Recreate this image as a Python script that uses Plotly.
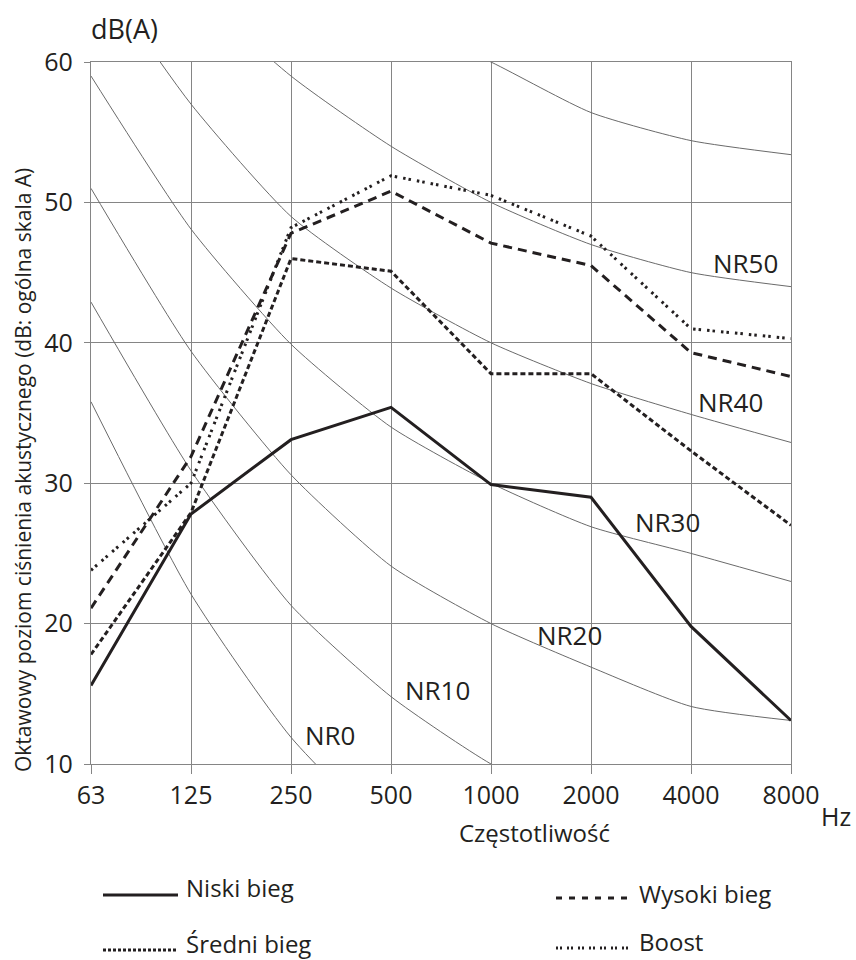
import plotly.graph_objects as go

# ---------------- data ----------------
freqs = ["63", "125", "250", "500", "1000", "2000", "4000", "8000"]

niski = [15.6, 27.8, 33.1, 35.4, 29.9, 29.0, 19.8, 13.1]
sredni = [17.8, 27.9, 46.0, 45.1, 37.8, 37.8, 32.3, 27.0]
wysoki = [21.1, 31.9, 47.8, 50.8, 47.1, 45.5, 39.3, 37.6]
boost = [23.8, 30.0, 48.2, 51.9, 50.5, 47.6, 41.0, 40.3]

nr_names = ["NR0", "NR10", "NR20", "NR30", "NR40", "NR50", "NR60"]
nr0 = [35.8, 22.1, 11.9, 4.8, 0.0, -3.5, -6.1, -8.0]
nr10 = [42.9, 30.9, 21.3, 14.8, 10.0, 6.6, 4.2, 2.3]
nr20 = [51.0, 39.4, 30.6, 24.1, 20.0, 16.9, 14.1, 13.1]
nr30 = [59.0, 48.1, 39.9, 34.0, 30.0, 26.9, 25.0, 23.0]
nr40 = [67.1, 57.0, 49.0, 43.9, 40.0, 37.1, 34.9, 32.9]
nr50 = [75.0, 65.5, 59.0, 54.0, 50.0, 47.0, 45.0, 44.0]
nr60 = [82.9, 74.2, 67.8, 63.2, 60.0, 56.4, 54.4, 53.4]
nr_curves = [nr0, nr10, nr20, nr30, nr40, nr50, nr60]

y_ticks = [10, 20, 30, 40, 50, 60]

legend_names = ["Niski bieg", "Średni bieg", "Wysoki bieg", "Boost"]

# ---------------- figure ----------------
W, H = 856, 960
L, R, T, B = 91, 791, 62, 764
FONT = "Open Sans"
INK = "#231f20"
GRID = "#858585"

def px(x):
    return (x - L) / (R - L)

def py(y):
    return (B - y) / (B - T)

fig = go.Figure()

for curve, name in zip(nr_curves, nr_names):
    fig.add_trace(go.Scatter(
        x=freqs, y=curve, mode="lines", name=name,
        line=dict(color="#6a6a6a", width=1, shape="spline", smoothing=0.6),
        showlegend=False, hoverinfo="skip"))

series = [
    (niski, dict(color=INK, width=3, dash="solid")),
    (sredni, dict(color=INK, width=3, dash="5px,3px")),
    (wysoki, dict(color=INK, width=3, dash="9px,6px")),
    (boost, dict(color=INK, width=3, dash="2.5px,3px,2.5px,6px")),
]
for (vals, ln), name in zip(series, legend_names):
    fig.add_trace(go.Scatter(x=freqs, y=vals, mode="lines", name=name,
                             line=ln, showlegend=False))

ann = []
# NR labels
nr_label_pos = [(330, 735), (437, 690), (569, 635), (667, 522), (730, 402), (745, 263)]
for name, (x, y) in zip(nr_names, nr_label_pos):
    ann.append(dict(x=px(x), y=py(y), xref="paper", yref="paper", text=name,
                    showarrow=False, font=dict(family=FONT, size=26, color=INK),
                    xanchor="center", yanchor="middle"))

ann.append(dict(x=px(124), y=py(29), xref="paper", yref="paper", text="dB(A)",
                showarrow=False, font=dict(family=FONT, size=27, color=INK),
                xanchor="center", yanchor="middle"))
ann.append(dict(x=px(836), y=py(816), xref="paper", yref="paper", text="Hz",
                showarrow=False, font=dict(family=FONT, size=25, color=INK),
                xanchor="center", yanchor="middle"))
ann.append(dict(x=px(457), y=py(832), xref="paper", yref="paper", text="Częstotliwość",
                showarrow=False, font=dict(family=FONT, size=24, color=INK),
                xanchor="left", yanchor="middle"))
ann.append(dict(x=px(23), y=py(470), xref="paper", yref="paper",
                text="Oktawowy poziom ciśnienia akustycznego (dB: ogólna skala A)",
                showarrow=False, textangle=-90,
                font=dict(family=FONT, size=21, color=INK),
                xanchor="center", yanchor="middle"))

# legend
leg_items = [
    (legend_names[0], 103, 178, 895, 185, 887, "solid", 3),
    (legend_names[1], 103, 178, 950, 185, 943, "3px,2px", 3),
    (legend_names[2], 556, 632, 898, 638, 893, "6px,7px", 3),
    (legend_names[3], 556, 632, 948, 638, 941, "2px,2px,2px,5px", 3),
]
shapes = []
for name, x0, x1, ly, tx, ty, dash, w in leg_items:
    shapes.append(dict(type="line", xref="paper", yref="paper",
                       x0=px(x0), x1=px(x1), y0=py(ly), y1=py(ly),
                       line=dict(color=INK, width=w, dash=dash)))
    ann.append(dict(x=px(tx), y=py(ty), xref="paper", yref="paper", text=name,
                    showarrow=False, font=dict(family=FONT, size=24, color=INK),
                    xanchor="left", yanchor="middle", borderpad=0))

fig.update_layout(
    width=W, height=H,
    margin=dict(l=L, r=W - R, t=T, b=H - B, pad=0),
    paper_bgcolor="white", plot_bgcolor="white",
    annotations=ann, shapes=shapes,
    showlegend=False,
    xaxis=dict(type="category", categoryorder="array", categoryarray=freqs,
               range=[0, 7], showgrid=True, gridcolor=GRID, gridwidth=1.3,
               showline=True, mirror=True, linecolor=GRID, linewidth=1.3,
               ticks="outside", ticklen=9, tickcolor=GRID, tickwidth=1.3,
               tickfont=dict(family=FONT, size=25, color=INK),
               zeroline=False, fixedrange=True),
    yaxis=dict(range=[10, 60], tickvals=y_ticks, showgrid=True, gridcolor=GRID,
               gridwidth=1.3, showline=True, mirror=True, linecolor=GRID,
               linewidth=1.3, ticks="outside", ticklen=6, tickcolor=GRID,
               tickwidth=1.3, ticklabelstandoff=6,
               tickfont=dict(family=FONT, size=25, color=INK),
               zeroline=False, fixedrange=True),
)

fig.write_html("out.html", config={"displayModeBar": False},
               post_script="document.body.style.margin='0';document.body.style.padding='0';")
